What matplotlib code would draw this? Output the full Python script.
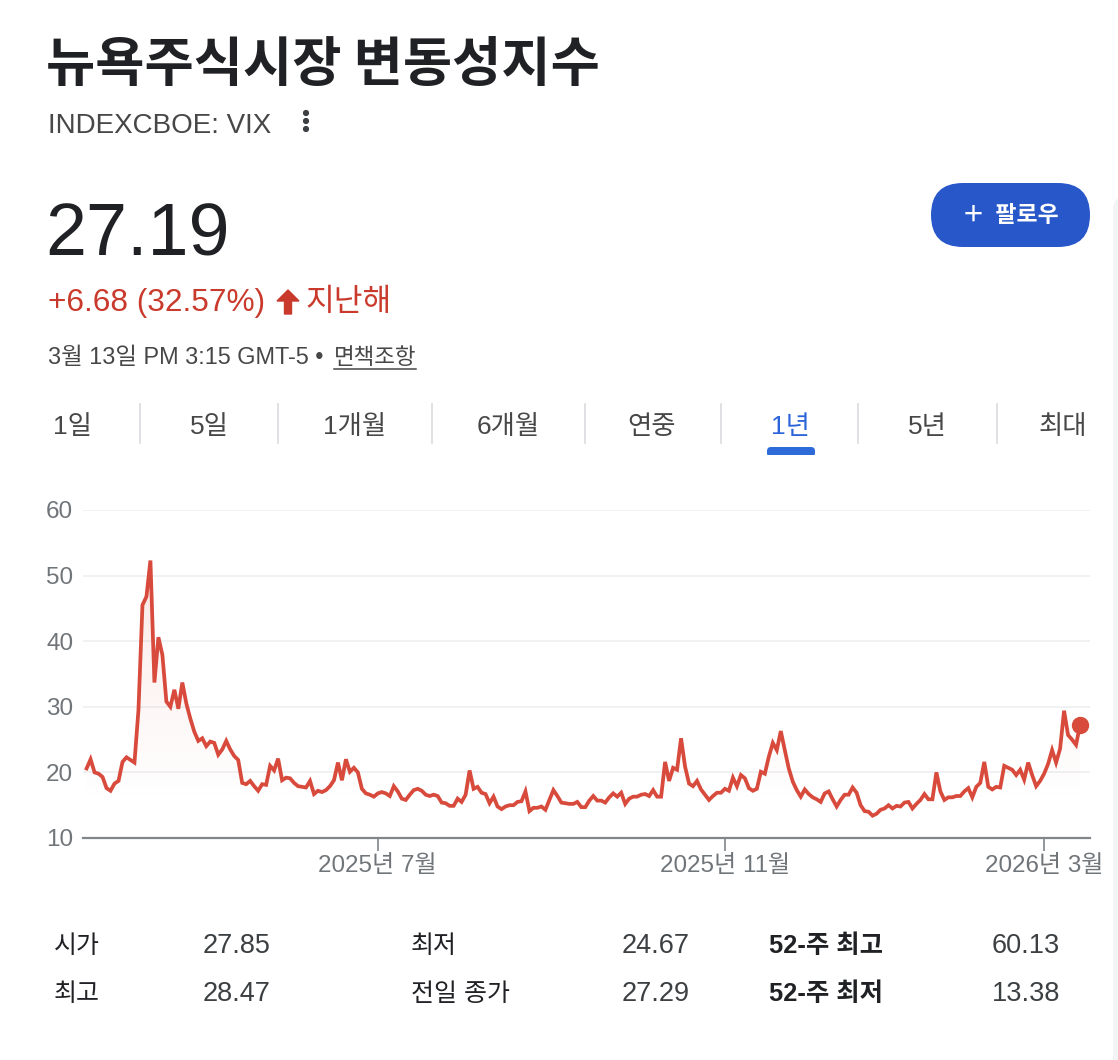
import numpy as np
import pandas as pd
import matplotlib
matplotlib.use("Agg")
import matplotlib.pyplot as plt
from matplotlib.patches import FancyBboxPatch, Polygon, Rectangle, Circle

plt.rcParams['font.family'] = ['Liberation Sans', 'Noto Sans CJK KR', 'DejaVu Sans']

# ---------------- data ----------------
title = "뉴욕주식시장 변동성지수"
ticker = "INDEXCBOE: VIX"
price = "27.19"
change = "+6.68 (32.57%)"
change_period = "지난해"
timestamp = "3월 13일 PM 3:15 GMT-5 • "
disclaimer = "면책조항"
follow_label = "＋  팔로우"
tabs = ["1일", "5일", "1개월", "6개월", "연중", "1년", "5년", "최대"]
selected_tab = "1년"

vix = [
    20.6, 22.0, 20.0, 19.8, 19.3, 17.6, 17.2, 18.3, 18.7, 21.6, 22.3, 21.9, 21.5, 29.5,
    45.5, 46.8, 52.3, 33.7, 40.6, 37.9, 30.8, 30.0, 32.6, 29.7, 33.7, 30.5, 28.2, 26.2,
    24.8, 25.2, 24.0, 24.7, 24.5, 22.7, 23.5, 24.8, 23.5, 22.5, 21.9, 18.4, 18.2, 18.7,
    17.9, 17.2, 18.2, 18.1, 21.0, 20.3, 22.1, 18.8, 19.2, 19.1, 18.4, 17.9,
    17.8, 17.7, 18.7, 16.7, 17.2, 17.0, 17.3, 17.9, 18.8, 21.5, 18.8, 22.0, 20.1, 20.7,
    20.0, 17.5, 16.8, 16.6, 16.3, 16.8, 17.0, 16.8, 16.4, 17.9, 17.1, 16.0, 15.8, 16.6,
    17.3, 17.5, 17.2, 16.6, 16.4, 16.6, 16.4, 15.4, 15.3, 14.9, 14.9, 16.0, 15.5, 16.6,
    20.3, 17.5, 17.8, 16.9, 16.7, 15.3, 16.3, 14.8, 14.4, 14.8, 15.0, 15.0, 15.5, 15.6,
    17.1, 14.1, 14.6, 14.6, 14.8, 14.3, 15.8,
    17.3, 16.4, 15.4, 15.3, 15.2, 15.2, 15.5, 14.7, 14.7, 15.7, 16.4, 15.7, 15.7, 15.4,
    16.2, 16.8, 16.3, 16.9, 15.2, 16.0, 16.3, 16.3, 16.6, 16.7, 16.4, 17.3, 16.3, 16.3,
    21.6, 18.7, 20.7, 20.4, 25.2, 20.9, 18.3, 17.9, 18.7, 17.4, 16.6, 15.8, 16.4, 16.9,
    16.9, 17.5, 17.2, 19.2, 17.9, 19.6, 19.1, 17.6, 17.2, 17.5, 20.1, 19.8, 22.4, 24.5,
    23.4, 26.3, 23.4, 20.6, 18.6,
    17.3, 16.3, 17.4, 16.7, 16.2, 15.9, 15.5, 16.8, 17.1, 15.9, 14.8, 15.8, 16.6, 16.6,
    17.7, 16.9, 15.0, 14.1, 14.0, 13.4, 13.7, 14.3, 14.5, 15.0, 14.5, 14.9, 14.8, 15.4,
    15.5, 14.5, 15.2, 15.8, 16.7, 15.9, 15.9, 20.0, 17.1, 15.8, 16.2, 16.2, 16.4, 16.4,
    17.1, 17.6, 16.2, 17.8, 18.4, 21.6, 17.8, 17.4, 17.8, 17.7, 21.0, 20.7, 20.4, 19.6,
    20.4, 18.9, 21.5, 19.6, 17.9, 18.7, 19.8, 21.3, 23.4, 21.5, 23.6, 29.4, 25.7, 25.0,
    24.2, 27.19,
]

market_holidays = ["2025-04-18", "2025-05-26", "2025-06-19", "2025-07-04", "2025-09-01",
                   "2025-11-27", "2025-12-25", "2026-01-01", "2026-01-19", "2026-02-16"]
last_date = "2026-03-13"
tick_months = ["2025-07-01", "2025-11-01", "2026-03-01"]
tick_labels = ["2025년 7월", "2025년 11월", "2026년 3월"]
y_ticks = [10, 20, 30, 40, 50, 60]

stat_labels_1 = ["시가", "최고"]
stat_values_1 = ["27.85", "28.47"]
stat_labels_2 = ["최저", "전일 종가"]
stat_values_2 = ["24.67", "27.29"]
stat_labels_3 = ["52-주 최고", "52-주 최저"]
stat_values_3 = ["60.13", "13.38"]

# ---------------- figure ----------------
W, H = 1118, 1060
fig = plt.figure(figsize=(W / 100, H / 100), dpi=100)
fig.patch.set_facecolor("white")

ov = fig.add_axes([0, 0, 1, 1])
ov.set_xlim(0, W)
ov.set_ylim(H, 0)
ov.axis("off")

DARK = "#202124"
GREY = "#474747"
RED = "#c93a2c"
BLUE = "#2757c9"

ov.text(46, 66, title, fontsize=38.5, color=DARK, va="center", ha="left",
        family=["Noto Sans CJK KR"], fontweight="bold")
ov.text(48, 126, ticker, fontsize=20, color=GREY, va="center", ha="left")
for yy in (113, 121, 129):
    ov.add_patch(Circle((306, yy), 2.4, color="#3c4043"))

ov.text(45, 236, price, fontsize=53, color=DARK, va="center", ha="left")
ov.text(48, 303, change, fontsize=22.8, color=RED, va="center", ha="left")
# up arrow
ov.add_patch(Polygon([[277, 301], [288, 290], [299, 301], [291.5, 301], [291.5, 314],
                      [284.5, 314], [284.5, 301]], closed=True, color=RED))
ov.text(305, 302, change_period, fontsize=22.5, color=RED, va="center", ha="left",
        family=["Noto Sans CJK KR"])
ov.text(48, 358, timestamp, fontsize=16.9, color=GREY, va="center", ha="left")
ov.text(334, 357, disclaimer, fontsize=16.2, color=GREY, va="center", ha="left",
        family=["Noto Sans CJK KR"])
ov.plot([334, 416], [368.5, 368.5], color=GREY, lw=1.1)

# follow button
ov.add_patch(FancyBboxPatch((931, 183), 159, 64, boxstyle="round,pad=0,rounding_size=32",
                            facecolor=BLUE, edgecolor="none"))
ov.text(1010, 216, follow_label, fontsize=16.5, color="white", va="center", ha="center",
        fontweight="bold", family=["Noto Sans CJK KR"])

# right edge panel
ov.add_patch(FancyBboxPatch((1113, 196), 30, 900, boxstyle="round,pad=0,rounding_size=14",
                            facecolor="#f3f4f6", edgecolor="none"))

# tabs
tab_centers = [72, 209, 355, 508, 652, 790, 927, 1063]
for cx, lab in zip(tab_centers, tabs):
    sel = lab == selected_tab
    ov.text(cx, 427, lab, fontsize=19, color="#2b63d9" if sel else GREY,
            va="center", ha="center")
    if sel:
        ov.add_patch(FancyBboxPatch((767, 447), 48, 10, boxstyle="round,pad=0,rounding_size=4",
                                    facecolor="#2f6ad9", edgecolor="none"))
for sx in (140, 278, 432, 585, 721, 858, 997):
    ov.plot([sx, sx], [404, 443], color="#dadce0", lw=1.2)
ov.add_patch(Rectangle((760, 455), 60, 6, facecolor="white", edgecolor="none"))

# ---------------- chart ----------------
dates = pd.bdate_range(end=last_date, periods=len(vix), freq="C", holidays=market_holidays)
x = np.arange(len(vix))
vals = np.array(vix)

ax = fig.add_axes([83 / W, 1 - 838 / H, (1090 - 83) / W, (838 - 510) / H])
ax.set_xlim(-0.9, 251.5)
ax.set_ylim(10, 60)
for s in ax.spines.values():
    s.set_visible(False)
ax.set_facecolor("none")
for yv in y_ticks[1:]:
    ax.axhline(yv, color="#eeeff1", lw=1.2, zorder=0)
ax.axhline(10, color="#80868b", lw=1.6, zorder=1, clip_on=False)

# gradient fill under line
poly = ax.fill_between(x, vals, 10, facecolor="none", edgecolor="none")
grad = np.zeros((200, 2, 4))
grad[..., 0], grad[..., 1], grad[..., 2] = 0.85, 0.29, 0.23
ramp = np.clip((np.linspace(10, 60, 200) - 14) / 38, 0, None) ** 1.2 * 0.13
grad[..., 3] = ramp[:, None]
im = ax.imshow(grad, extent=[x[0], x[-1], 10, 60], origin="lower", aspect="auto", zorder=1)
im.set_clip_path(poly.get_paths()[0], transform=ax.transData)

ax.plot(x, vals, color="#d84a3c", lw=2.7, zorder=3, solid_joinstyle="miter")
ax.plot(x[-1], vals[-1], "o", color="#d84a3c", ms=11.5, zorder=4, clip_on=False)

tick_pos = [int(np.searchsorted(dates, pd.Timestamp(m))) for m in tick_months]
ax.set_xticks(tick_pos)
ax.set_xticklabels(tick_labels, fontsize=17.4, color="#70757a")
ax.set_yticks(y_ticks)
ax.set_yticklabels([str(v) for v in y_ticks], fontsize=17.5, color="#70757a")
ax.tick_params(axis="y", length=0, pad=7)
ax.tick_params(axis="x", length=9, width=1.2, color="#80868b", pad=3, direction="out")

# ---------------- stats ----------------
rows_y = [946, 994]
for i, yy in enumerate(rows_y):
    ov.text(54, yy, stat_labels_1[i], fontsize=18, color=DARK, va="center", ha="left")
    ov.text(271, yy, stat_values_1[i], fontsize=19.5, color="#3c4043", va="center", ha="right")
    ov.text(411, yy, stat_labels_2[i], fontsize=18, color=DARK, va="center", ha="left")
    ov.text(690, yy, stat_values_2[i], fontsize=19.5, color="#3c4043", va="center", ha="right")
    ov.text(769, yy, stat_labels_3[i], fontsize=18.3, color=DARK, va="center", ha="left",
            fontweight="bold")
    ov.text(1060, yy, stat_values_3[i], fontsize=19.5, color="#3c4043", va="center", ha="right")

fig.savefig("out.png", dpi=100, facecolor="white")
